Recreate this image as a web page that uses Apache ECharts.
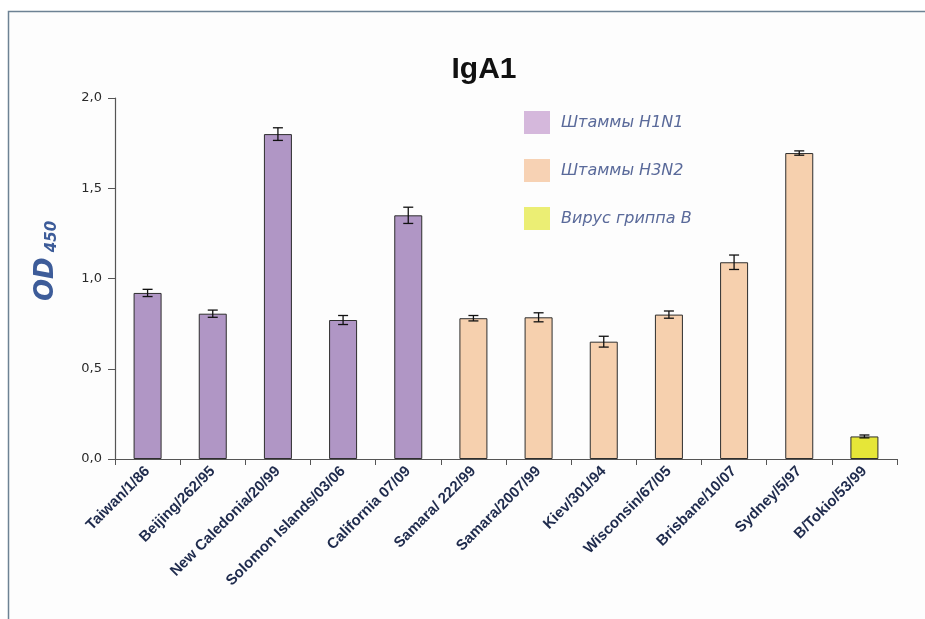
<!DOCTYPE html>
<html>
<head>
<meta charset="utf-8">
<script src="https://cdn.jsdelivr.net/npm/echarts@6/dist/echarts.min.js"></script>
<style>
  html, body { margin: 0; padding: 0; background: #ffffff; }
  #chart { width: 925px; height: 619px; }
</style>
</head>
<body>
<div id="chart"></div>
<script>
// Strain names along the x axis
var strains = [
  'Taiwan/1/86', 'Beijing/262/95', 'New Caledonia/20/99', 'Solomon Islands/03/06',
  'California 07/09', 'Samara/ 222/99', 'Samara/2007/99', 'Kiev/301/94',
  'Wisconsin/67/05', 'Brisbane/10/07', 'Sydney/5/97', 'B/Tokio/53/99'
];
// OD450 means for each group (null where the strain belongs to another group)
var h1n1 = [0.92, 0.805, 1.80, 0.77, 1.35, null, null, null, null, null, null, null];
var h3n2 = [null, null, null, null, null, 0.78, 0.785, 0.65, 0.80, 1.09, 1.695, null];
var fluB = [null, null, null, null, null, null, null, null, null, null, null, 0.125];
// Error (± value) for each strain
var errs = [0.02, 0.02, 0.035, 0.025, 0.045, 0.015, 0.025, 0.03, 0.02, 0.04, 0.012, 0.008];
// Series names shown in the legend
var groupNames = ['Штаммы H1N1', 'Штаммы H3N2', 'Вирус гриппа B'];
var yTicks = { min: 0, max: 2, step: 0.5 };

var means = strains.map(function (_, i) {
  return h1n1[i] != null ? h1n1[i] : (h3n2[i] != null ? h3n2[i] : fluB[i]);
});
var errData = strains.map(function (_, i) {
  return [i, means[i] - errs[i], means[i] + errs[i]];
});

var barColors = ['#b096c5', '#f6d0ae', '#e6e638'];
var legendColors = ['#d5b8dc', '#f7d2b4', '#ebee74'];

function barSeries(name, data, color) {
  return {
    name: name, type: 'bar', data: data, barWidth: 28, barGap: '-100%',
    itemStyle: { color: color, borderColor: '#2e2e2e', borderWidth: 1 },
    z: 2
  };
}

var chart = echarts.init(document.getElementById('chart'));
chart.setOption({
  backgroundColor: '#ffffff',
  animation: false,
  title: {
    text: 'IgA1', left: 479, top: 50, textAlign: 'center',
    textStyle: { fontFamily: 'Liberation Sans', fontWeight: 'bold', fontSize: 30, color: '#111' }
  },
  graphic: [
    {
      type: 'rect', z: -10, silent: true,
      shape: { x: 8.5, y: 11.5, width: 1000, height: 1000 },
      style: { fill: '#fdfdfd', stroke: '#6d8294', lineWidth: 1.5 }
    },
    {
      type: 'text', x: 46, y: 261, rotation: Math.PI / 2, z: 10,
      style: {
        text: '{a|OD}{b| 450}',
        align: 'center', verticalAlign: 'middle',
        rich: {
          a: { fontFamily: 'DejaVu Sans', fontStyle: 'italic', fontWeight: 'bold', fontSize: 26, fill: '#3d5c99' },
          b: { fontFamily: 'DejaVu Sans', fontStyle: 'italic', fontWeight: 'bold', fontSize: 15, fill: '#3d5c99', padding: [12, 0, 0, 0] }
        }
      }
    }
  ],
  legend: {
    orient: 'vertical', left: 519, top: 106,
    itemWidth: 26, itemHeight: 23, itemGap: 25,
    icon: 'rect',
    data: groupNames.map(function (n, i) {
      return { name: n, itemStyle: { color: legendColors[i], borderWidth: 0 } };
    }),
    textStyle: {
      fontFamily: 'DejaVu Sans', fontStyle: 'italic', fontSize: 16, color: '#5a6a9a',
      padding: [0, 0, 0, 6]
    }
  },
  grid: { left: 115, right: 28, top: 98, bottom: 160 },
  xAxis: {
    type: 'category', data: strains,
    axisLine: { lineStyle: { color: '#555', width: 1.2 } },
    axisTick: { show: true, length: 6, lineStyle: { color: '#555' } },
    axisLabel: {
      rotate: 45, interval: 0, margin: 10,
      fontFamily: 'Liberation Sans', fontWeight: 'bold', fontSize: 15, color: '#1f2b4d'
    }
  },
  yAxis: {
    type: 'value', min: yTicks.min, max: yTicks.max, interval: yTicks.step,
    axisLine: { show: true, lineStyle: { color: '#555', width: 1.2 } },
    axisTick: { show: true, length: 7, lineStyle: { color: '#555' } },
    splitLine: { show: false },
    axisLabel: {
      margin: 13, fontFamily: 'DejaVu Sans', fontSize: 13, color: '#2a2a2a',
      formatter: function (v) { return v.toFixed(1).replace('.', ','); }
    }
  },
  series: [
    barSeries(groupNames[0], h1n1, barColors[0]),
    barSeries(groupNames[1], h3n2, barColors[1]),
    barSeries(groupNames[2], fluB, barColors[2]),
    {
      type: 'custom', name: 'err', data: errData, z: 5,
      encode: { x: 0, y: [1, 2] },
      renderItem: function (params, api) {
        var x = api.value(0);
        var lo = api.coord([x, api.value(1)]);
        var hi = api.coord([x, api.value(2)]);
        var cap = 5;
        var st = { stroke: '#111', lineWidth: 1.3 };
        return {
          type: 'group',
          children: [
            { type: 'line', shape: { x1: lo[0], y1: lo[1], x2: hi[0], y2: hi[1] }, style: st },
            { type: 'line', shape: { x1: lo[0] - cap, y1: lo[1], x2: lo[0] + cap, y2: lo[1] }, style: st },
            { type: 'line', shape: { x1: hi[0] - cap, y1: hi[1], x2: hi[0] + cap, y2: hi[1] }, style: st }
          ]
        };
      }
    }
  ]
});
</script>
</body>
</html>
